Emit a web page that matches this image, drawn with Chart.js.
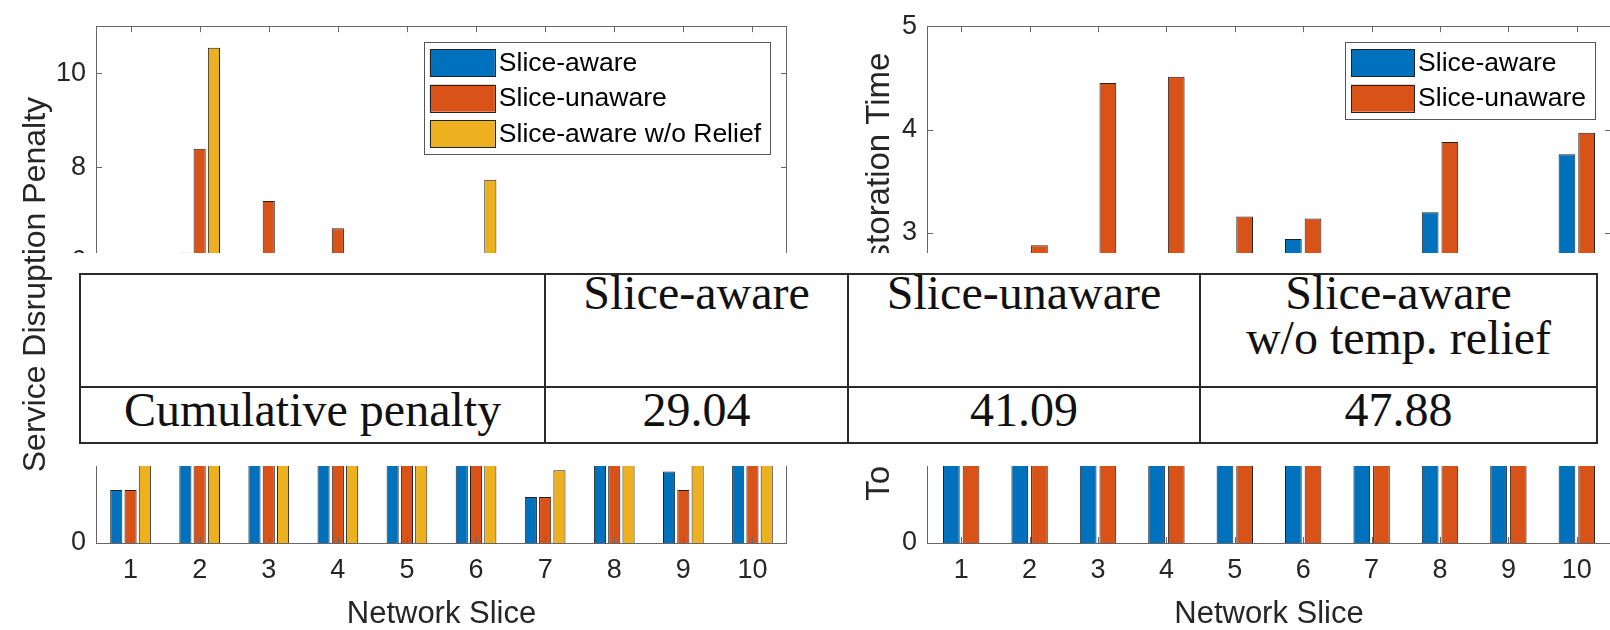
<!DOCTYPE html>
<html>
<head>
<meta charset="utf-8">
<script src="https://cdn.jsdelivr.net/npm/chart.js@4.4.1/dist/chart.umd.min.js"></script>
<style>
  html, body { margin: 0; padding: 0; background: #fff; overflow: hidden; }
  body { width: 1610px; height: 630px; position: relative; }
  canvas { position: absolute; top: 0; }
  #penaltyChart { left: 0; }
  #timeChart { left: 805px; }
  #cover { position: absolute; left: 56px; top: 253px; width: 1554px; height: 213px; background: #fff; }
  #summary { position: absolute; left: 79px; top: 273px; width: 1519px; table-layout: fixed;
             border-collapse: collapse; font-family: 'Liberation Serif', 'Times New Roman', serif;
             font-size: 48px; color: #111; }
  #summary td { border: 2px solid #2a2a2a; padding: 0; text-align: center; }
  #summary tr.head td { height: 111px; vertical-align: top; line-height: 45px; }
  #summary tr.head td div { margin-top: -5px; }
  #summary tr.vals td { height: 54px; vertical-align: middle; line-height: 45px; }
  #summary tr.vals td div { position: relative; top: -6px; }
</style>
</head>
<body>
<canvas id="penaltyChart" width="805" height="630"></canvas>
<canvas id="timeChart" width="807" height="630"></canvas>
<div id="cover"></div>
<table id="summary">
  <colgroup><col style="width:465px"><col style="width:303px"><col style="width:352px"><col style="width:397px"></colgroup>
  <tr class="head"></tr>
  <tr class="vals"></tr>
</table>
<script>
// network slices on the x axis
const slices = ['1', '2', '3', '4', '5', '6', '7', '8', '9', '10'];

// left panel: service disruption penalty
const awarePenalty = [1.13, 6.18, 3.2, 2.9, 3.4, 3.6, 0.98, 3.1, 1.52, 3.03];
const unawarePenalty = [1.13, 8.39, 7.28, 6.70, 3.6, 4.2, 0.98, 3.5, 1.13, 4.18];
const noReliefPenalty = [3.3, 10.54, 5.9, 3.6, 3.5, 7.73, 1.55, 3.4, 2.31, 6.05];

// right panel: total restoration time
const awareTime = [2.2, 2.4, 2.6, 2.6, 2.5, 2.94, 2.3, 3.20, 2.5, 3.76];
const unawareTime = [2.5, 2.88, 4.45, 4.51, 3.16, 3.14, 2.6, 3.88, 2.7, 3.97];

// summary table
const tableHeads = [['Slice-aware'], ['Slice-unaware'], ['Slice-aware', 'w/o temp. relief']];
const rowLabel = 'Cumulative penalty';
const cumulativePenalty = ['29.04', '41.09', '47.88'];

const BLUE = '#0072BD', ORANGE = '#D95319', YELLOW = '#EDB120', EDGE = '#222';

Chart.defaults.font.family = "'Liberation Sans', Arial, sans-serif";
Chart.defaults.color = '#262626';

// rotated y title at a fixed x, centred on the plot (dy nudges it)
const yTitlePlugin = {
  id: 'yTitle',
  afterDraw(chart, args, o) {
    const {ctx, chartArea} = chart;
    const cy = (chartArea.top + chartArea.bottom) / 2 + (o.dy || 0);
    ctx.save();
    ctx.translate(o.x, cy);
    ctx.rotate(-Math.PI / 2);
    ctx.font = o.size + "px 'Liberation Sans', Arial, sans-serif";
    ctx.fillStyle = '#262626';
    ctx.textAlign = 'center';
    ctx.textBaseline = 'middle';
    ctx.fillText(o.text, 0, 0);
    ctx.restore();
  }
};

// matlab style box with inward ticks on all four sides
const boxFramePlugin = {
  id: 'boxFrame',
  afterDatasetsDraw(chart) {
    const {ctx, chartArea: a, scales: {x, y}} = chart;
    ctx.save();
    ctx.strokeStyle = '#666';
    ctx.lineWidth = 1;
    ctx.strokeRect(Math.round(a.left) + 0.5, Math.round(a.top) + 0.5,
                   Math.round(a.right - a.left) - 1, Math.round(a.bottom - a.top));
    ctx.beginPath();
    x.ticks.forEach((t, i) => {
      const px = Math.round(x.getPixelForTick(i)) + 0.5;
      ctx.moveTo(px, a.bottom); ctx.lineTo(px, a.bottom - 6);
      ctx.moveTo(px, a.top); ctx.lineTo(px, a.top + 6);
    });
    y.ticks.forEach((t, i) => {
      const py = Math.round(y.getPixelForTick(i)) + 0.5;
      ctx.moveTo(a.left, py); ctx.lineTo(a.left + 6, py);
      ctx.moveTo(a.right, py); ctx.lineTo(a.right - 6, py);
    });
    ctx.stroke();
    ctx.restore();
  }
};

// legend box inside the plot, top right
const boxLegendPlugin = {
  id: 'boxLegend',
  afterDraw(chart, args, o) {
    const {ctx, chartArea: a} = chart;
    const sets = chart.data.datasets;
    ctx.save();
    ctx.font = "26.5px 'Liberation Sans', Arial, sans-serif";
    const textW = Math.max(...sets.map(d => ctx.measureText(d.label).width));
    const w = 6 + o.swatchW + 4 + textW + 9;
    const h = 14 + (sets.length - 1) * 35.5 + 27;
    const bx = a.right - o.right - w, by = a.top + o.top;
    ctx.fillStyle = '#fff';
    ctx.fillRect(bx, by, w, h);
    ctx.strokeStyle = '#555';
    ctx.lineWidth = 1;
    ctx.strokeRect(Math.round(bx) + 0.5, Math.round(by) + 0.5, Math.round(w), Math.round(h));
    sets.forEach((d, i) => {
      const sy = by + 7 + i * 35.5;
      ctx.fillStyle = d.backgroundColor;
      ctx.fillRect(bx + 6, sy, o.swatchW, 27);
      ctx.strokeStyle = EDGE;
      ctx.strokeRect(Math.round(bx + 6) + 0.5, Math.round(sy) + 0.5, o.swatchW, 27);
      ctx.fillStyle = '#000';
      ctx.textBaseline = 'middle';
      ctx.fillText(d.label, bx + 6 + o.swatchW + 4, sy + 14);
    });
    ctx.restore();
  }
};

function axes(yMax, step, yWidth) {
  return {
    x: {
      grid: {display: false, drawTicks: false},
      border: {display: false},
      ticks: {padding: 11, font: {size: 27}, maxRotation: 0, autoSkip: false},
      title: {display: true, text: 'Network Slice', font: {size: 31, lineHeight: 1}, padding: 0},
      afterFit: s => { s.height = 87; }
    },
    y: {
      min: 0, max: yMax,
      grid: {display: false, drawTicks: false},
      border: {display: false},
      ticks: {stepSize: step, includeBounds: false, padding: 10, font: {size: 27}},
      afterFit: s => { s.width = yWidth; }
    }
  };
}

new Chart(document.getElementById('penaltyChart'), {
  type: 'bar',
  data: {
    labels: slices,
    datasets: [
      {label: 'Slice-aware', data: awarePenalty, backgroundColor: BLUE, borderColor: EDGE, borderWidth: 1},
      {label: 'Slice-unaware', data: unawarePenalty, backgroundColor: ORANGE, borderColor: EDGE, borderWidth: 1},
      {label: 'Slice-aware w/o Relief', data: noReliefPenalty, backgroundColor: YELLOW, borderColor: EDGE, borderWidth: 1}
    ]
  },
  options: {
    responsive: false,
    animation: false,
    layout: {padding: {left: 0, right: 18, top: 16, bottom: 0}},
    datasets: {bar: {categoryPercentage: 0.62, barPercentage: 0.85}},
    plugins: {
      legend: {display: false},
      tooltip: {enabled: false},
      yTitle: {text: 'Service Disruption Penalty', x: 36, size: 32},
      boxLegend: {right: 17, top: 16, swatchW: 65}
    },
    scales: axes(11, 2, 96)
  },
  plugins: [yTitlePlugin, boxFramePlugin, boxLegendPlugin]
});

new Chart(document.getElementById('timeChart'), {
  type: 'bar',
  data: {
    labels: slices,
    datasets: [
      {label: 'Slice-aware', data: awareTime, backgroundColor: BLUE, borderColor: EDGE, borderWidth: 1},
      {label: 'Slice-unaware', data: unawareTime, backgroundColor: ORANGE, borderColor: EDGE, borderWidth: 1}
    ]
  },
  options: {
    responsive: false,
    animation: false,
    layout: {padding: {left: 0, right: 1, top: 15, bottom: 0}},
    datasets: {bar: {categoryPercentage: 0.575, barPercentage: 0.85}},
    plugins: {
      legend: {display: false},
      tooltip: {enabled: false},
      yTitle: {text: 'Total Service Restoration Time', x: 75, size: 33, dy: -8},
      boxLegend: {right: 16, top: 16, swatchW: 63}
    },
    scales: axes(5, 1, 122)
  },
  plugins: [yTitlePlugin, boxFramePlugin, boxLegendPlugin]
});

// summary table over the middle of the figure
const headRow = document.querySelector('#summary tr.head');
const valRow = document.querySelector('#summary tr.vals');
headRow.appendChild(document.createElement('td'));
tableHeads.forEach(lines => {
  const td = document.createElement('td');
  const div = document.createElement('div');
  lines.forEach((line, i) => {
    if (i) div.appendChild(document.createElement('br'));
    div.appendChild(document.createTextNode(line));
  });
  td.appendChild(div);
  headRow.appendChild(td);
});
[rowLabel, ...cumulativePenalty].forEach(v => {
  const td = document.createElement('td');
  const div = document.createElement('div');
  div.textContent = v;
  td.appendChild(div);
  valRow.appendChild(td);
});
</script>
</body>
</html>
